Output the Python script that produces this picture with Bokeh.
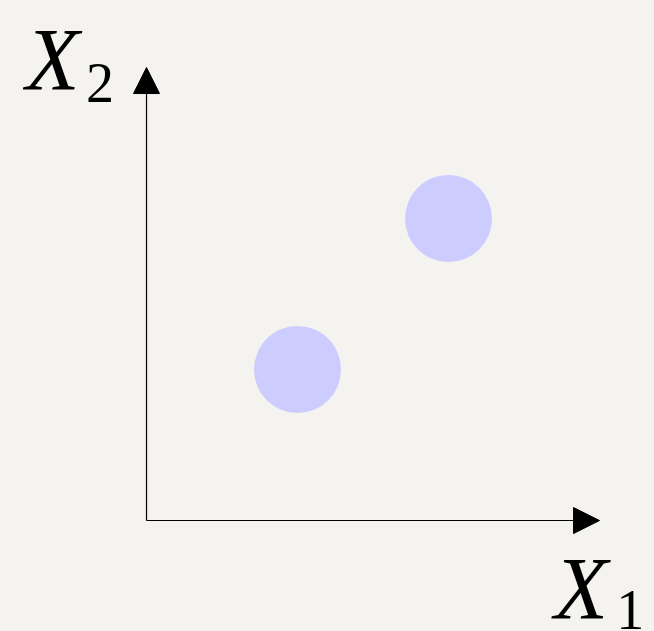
from bokeh.plotting import figure
from bokeh.models import Range1d, Arrow, NormalHead, GlobalInlineStyleSheet
from bokeh.core.properties import value
from bokeh.embed import file_html
from bokeh.resources import INLINE

# data
x1_vals = [1.0, 2.0]
x2_vals = [1.0, 2.0]
axis_max = 3.0

BG = "#f4f3ef"

p = figure(width=654, height=631, output_backend="svg", toolbar_location=None,
           x_range=Range1d(-0.967, 3.364), y_range=Range1d(-0.735, 3.444),
           min_border=0, background_fill_color=BG, border_fill_color=BG,
           outline_line_color=None)
p.axis.visible = False
p.grid.visible = False
p.stylesheets = [GlobalInlineStyleSheet(css=f"html, body {{ background: {BG}; margin: 0; }}")]

# axes with arrow heads
p.add_layout(Arrow(x_start=0, y_start=0, x_end=axis_max, y_end=0,
                   line_color="black", line_width=1.2,
                   end=NormalHead(size=26, fill_color="black", line_color="black", line_width=1)))
p.add_layout(Arrow(x_start=0, y_start=0, x_end=0, y_end=axis_max,
                   line_color="black", line_width=1.2,
                   end=NormalHead(size=26, fill_color="black", line_color="black", line_width=1)))

# points
p.scatter(x1_vals, x2_vals, size=87, fill_color="#ccccff", line_color=None)

# axis labels
serif = value("Liberation Serif")
p.text(x=[-0.80], y=[3.05], text=["X"], text_font=serif, text_font_style="italic",
       text_font_size="88px", text_align="left", text_baseline="alphabetic", text_color="black")
p.text(x=[-0.40], y=[2.90], text=["2"], text_font=serif,
       text_font_size="56px", text_align="left", text_baseline="alphabetic", text_color="black")
p.text(x=[2.70], y=[-0.45], text=["X"], text_font=serif, text_font_style="italic",
       text_font_size="88px", text_align="left", text_baseline="alphabetic", text_color="black")
p.text(x=[3.11], y=[-0.59], text=["1"], text_font=serif,
       text_font_size="56px", text_align="left", text_baseline="alphabetic", text_color="black")

open("out.html", "w").write(file_html(p, INLINE))
